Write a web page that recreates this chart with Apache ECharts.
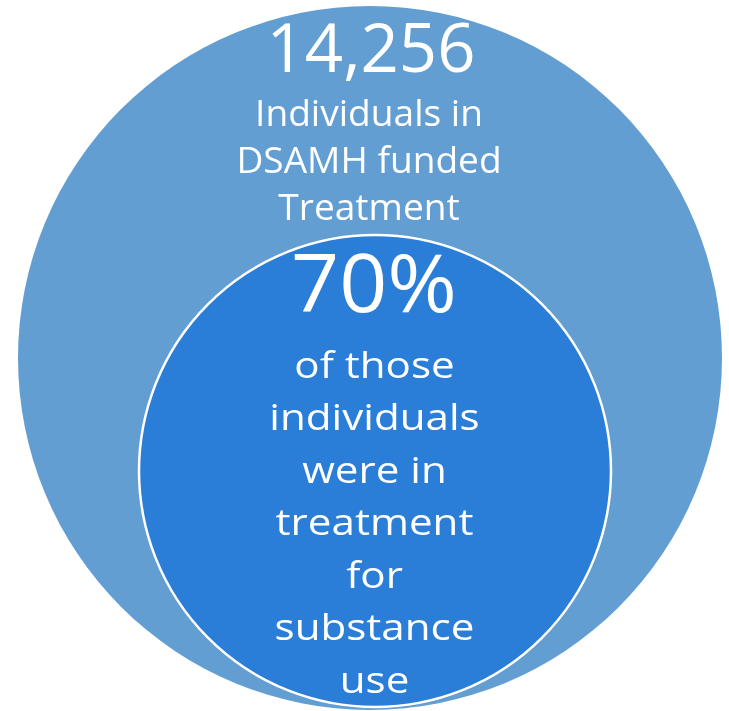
<!DOCTYPE html>
<html>
<head>
<meta charset="utf-8">
<script src="https://cdn.jsdelivr.net/npm/echarts@6/dist/echarts.min.js"></script>
<style>
html,body{margin:0;padding:0;background:#fff;}
#chart{width:729px;height:711px;}
</style>
</head>
<body>
<div id="chart"></div>
<script>
// Data
var totalIndividuals = 14256;
var substanceUsePct = 70;
var outerLabelLines = ["Individuals in", "DSAMH funded", "Treatment"];
var innerLabelLines = ["of those", "individuals", "were in", "treatment", "for", "substance", "use"];

var FONT = "'Open Sans', sans-serif";
var chart = echarts.init(document.getElementById('chart'), null, {renderer: 'canvas'});

var graphics = [];
// baseline -> 'middle' conversion factor
var K = 0.27;
function addText(txt, x, baseline, size, sx) {
  graphics.push({
    type: 'text', silent: true, z: 100,
    x: x, y: baseline - K * size, scaleX: sx || 1,
    style: {
      text: txt, x: 0, y: 0, fill: '#ffffff',
      font: 'normal ' + size + 'px ' + FONT,
      align: 'center', verticalAlign: 'middle'
    }
  });
}
addText(totalIndividuals.toLocaleString('en-US'), 371, 71, 67, 1.0);
outerLabelLines.forEach(function (t, i) { addText(t, 369, 125 + i * 47.2, 36, 1.03); });
addText(substanceUsePct + '%', 374, 311, 81, 1.04);
innerLabelLines.forEach(function (t, i) { addText(t, 374.5, 377 + i * 52.5, 36, 1.17); });

chart.setOption({
  animation: false,
  series: [
    {
      type: 'pie', silent: true, z: 1,
      center: [370, 358], radius: [0, 352],
      label: {show: false}, labelLine: {show: false},
      itemStyle: {color: '#639ED2', borderWidth: 0},
      data: [{name: 'Individuals', value: totalIndividuals}]
    },
    {
      type: 'pie', silent: true, z: 2,
      center: [375, 471], radius: [0, 236],
      label: {show: false}, labelLine: {show: false},
      itemStyle: {color: '#2B7ED7', borderColor: '#ffffff', borderWidth: 2.5},
      data: [{name: 'Substance use', value: substanceUsePct}]
    }
  ],
  graphic: {elements: graphics}
});
</script>
</body>
</html>
